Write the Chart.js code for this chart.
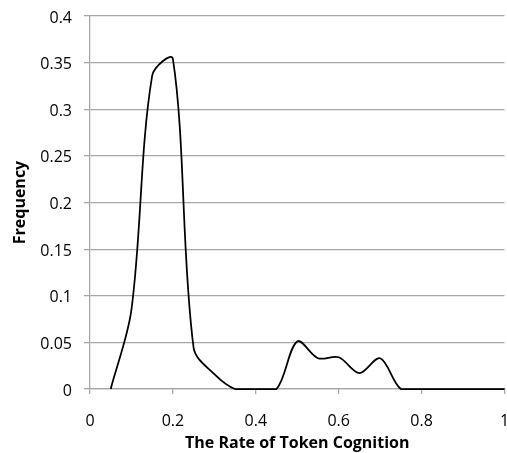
<!DOCTYPE html>
<html>
<head>
<meta charset="utf-8">
<script src="https://cdn.jsdelivr.net/npm/chart.js@4/dist/chart.umd.min.js"></script>
<style>
html,body{margin:0;padding:0;background:#fff;overflow:hidden;}
#c{position:absolute;left:0;top:0;}
</style>
</head>
<body>
<canvas id="c" width="512" height="453" style="width:512px;height:453px"></canvas>
<script>
const rates = [0.05,0.1,0.15,0.2,0.25,0.3,0.35,0.4,0.45,0.5,0.55,0.6,0.65,0.7,0.75,0.8,0.85,0.9,0.95,1.0];
const frequency = [0,0.085,0.336,0.354,0.044,0.016,0,0,0,0.051,0.033,0.034,0.017,0.033,0,0,0,0,0,0];
const xTickLabels = ['0','0.2','0.4','0.6','0.8','1'];
const yTickLabels = ['0','0.05','0.1','0.15','0.2','0.25','0.3','0.35','0.4'];
const xTitle = 'The Rate of Token Cognition';
const yTitle = 'Frequency';

const FONT = '"Open Sans", sans-serif';
const points = rates.map((r,i)=>({x:r,y:frequency[i]}));

new Chart(document.getElementById('c'), {
  type: 'line',
  data: { datasets: [{
    data: points,
    borderColor: '#000',
    borderWidth: 1.75,
    pointRadius: 0,
    tension: 0.33,
    fill: false,
    clip: {left: 5, top: 5, right: 10, bottom: 1}
  }]},
  options: {
    responsive: false,
    animation: false,
    devicePixelRatio: 1,
    layout: { padding: {left: 0, top: 16, right: 7.5, bottom: 0} },
    plugins: { legend: {display:false}, tooltip: {enabled:false} },
    scales: {
      x: {
        type: 'linear', min: 0, max: 1,
        ticks: { stepSize: 0.2, color: '#000', padding: 18, maxRotation: 0,
          font: {family: FONT, size: 16},
          callback: (v, i) => xTickLabels[i] },
        grid: { drawOnChartArea: false, drawTicks: true, tickLength: 5, color: '#a6a6a6', lineWidth: 1.25 },
        border: { display: true, color: '#a6a6a6', width: 1.25 },
        title: { display: true, text: xTitle, color: '#000', padding: {top: 0, bottom: 0},
          font: {family: FONT, size: 16, weight: 'bold'} },
        afterFit: (s) => { s.height = 64; s.paddingLeft = 0; s.paddingRight = 0; }
      },
      y: {
        min: 0, max: 0.4,
        ticks: { stepSize: 0.05, color: '#000', padding: 12, labelOffset: 2,
          font: {family: FONT, size: 16},
          callback: (v, i) => yTickLabels[i] },
        grid: { color: '#a6a6a6', lineWidth: 1.25, tickLength: 6 },
        border: { display: true, color: '#a6a6a6', width: 1.25 },
        title: { display: true, text: yTitle, color: '#000', padding: {top: 11, bottom: 0},
          font: {family: FONT, size: 16, weight: 'bold'} },
        afterFit: (s) => { s.width = 90; s.paddingTop = 0; s.paddingBottom = 0; }
      }
    }
  }
});
</script>
</body>
</html>
